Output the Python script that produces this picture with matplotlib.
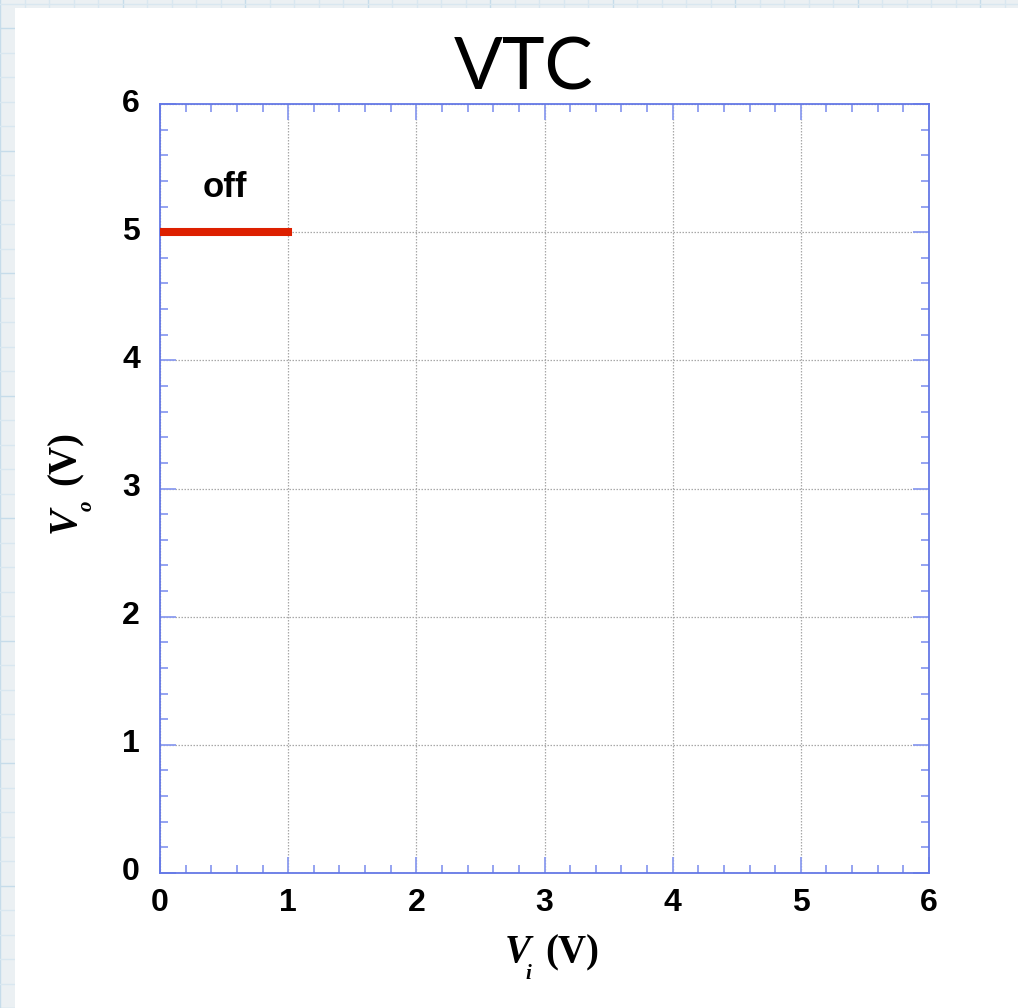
import numpy as np
import matplotlib
matplotlib.use("Agg")
import matplotlib.pyplot as plt
from matplotlib.patches import Rectangle
from matplotlib.lines import Line2D
from matplotlib.ticker import MultipleLocator
import matplotlib.transforms as mtransforms

# ---- data ----
vi_off = [0.0, 1.0]
vo_off = [5.0, 5.0]
region_label = "off"
region_label_pos = (0.51, 5.35)
x_ticks = [0, 1, 2, 3, 4, 5, 6]
y_ticks = [0, 1, 2, 3, 4, 5, 6]
title = "VTC"
x_label_parts = ("V", "i", "(V)")
y_label_parts = ("V", "o", "(V)")

W, H = 1018, 1008
fig = plt.figure(figsize=(W / 100, H / 100), dpi=100)
fig.patch.set_facecolor('#ebf0f3')

# graph-paper background
for i, xp in enumerate(np.arange(0, W, 24.5)):
    c = '#c6dcea' if i % 5 == 0 else '#d9e7f0'
    fig.add_artist(Line2D([xp / W, xp / W], [0, 1], color=c, lw=1.0, transform=fig.transFigure, zorder=-3))
for i, yp in enumerate(np.arange(0, H, 24.5)):
    c = '#c6dcea' if i % 5 == 0 else '#d9e7f0'
    fig.add_artist(Line2D([0, 1], [yp / H, yp / H], color=c, lw=1.0, transform=fig.transFigure, zorder=-3))
fig.add_artist(Rectangle((15 / W, -0.01), 1.0, 1 - 8 / H + 0.01, transform=fig.transFigure,
                         facecolor='white', edgecolor='none', zorder=-2))

ax = fig.add_axes([160 / W, 1 - 873 / H, (929 - 160) / W, (873 - 104) / H])
ax.set_facecolor('white')
ax.set_xlim(0, 6)
ax.set_ylim(0, 6)
ax.set_xticks(x_ticks)
ax.set_yticks(y_ticks)
ax.xaxis.set_minor_locator(MultipleLocator(0.2))
ax.yaxis.set_minor_locator(MultipleLocator(0.2))

spine_c = '#6478e6'
tick_c = '#8c9cf0'
for s in ax.spines.values():
    s.set_color(spine_c)
    s.set_linewidth(1.3)
ax.tick_params(which='both', direction='in', top=True, right=True, color=tick_c, width=1.3)
ax.tick_params(which='major', length=11.5)
ax.tick_params(which='minor', length=5.8)
ax.tick_params(axis='y', which='major', pad=14.4)
ax.tick_params(axis='x', which='major', pad=10.5)
for lab in ax.get_xticklabels() + ax.get_yticklabels():
    lab.set_fontfamily('Liberation Sans')
    lab.set_fontweight('bold')
    lab.set_fontsize(23)
offset = mtransforms.ScaledTranslation(0, 4 / 100, fig.dpi_scale_trans)
for lab in ax.get_yticklabels():
    lab.set_transform(lab.get_transform() + offset)

ax.grid(True, which='major', color='#a8a8a8', linestyle=(0, (1.2, 1.2)), linewidth=0.9)

ax.plot(vi_off, vo_off, color='#dd2000', linewidth=5.8, solid_capstyle='projecting', zorder=3)
ax.text(region_label_pos[0], region_label_pos[1], region_label, fontfamily='Liberation Sans',
        fontweight='bold', fontsize=25, ha='center', va='center')

fig.text(524 / W, 1 - 90 / H, title, fontfamily='Lato', fontsize=52, ha='center', va='baseline')

serif = dict(fontfamily='Liberation Serif', fontweight='bold')
# x label: italic V, lowered italic subscript i, then (V)
fig.text(505 / W, 1 - 962 / H, x_label_parts[0], style='italic', fontsize=28, ha='left', va='baseline', **serif)
fig.text(525 / W, 1 - 979 / H, x_label_parts[1], style='italic', fontsize=15, ha='left', va='baseline', **serif)
fig.text(545 / W, 1 - 962 / H, x_label_parts[2], fontsize=28, ha='left', va='baseline', **serif)
# y label (rotated)
rot = dict(rotation=90, rotation_mode='anchor', ha='left', va='baseline')
fig.text(75 / W, 1 - 533 / H, y_label_parts[0], style='italic', fontsize=28, **rot, **serif)
fig.text(92 / W, 1 - 511 / H, y_label_parts[1], style='italic', fontsize=15, **rot, **serif)
fig.text(75 / W, 1 - 485 / H, y_label_parts[2], fontsize=28, **rot, **serif)

fig.savefig('out.png', dpi=100)
